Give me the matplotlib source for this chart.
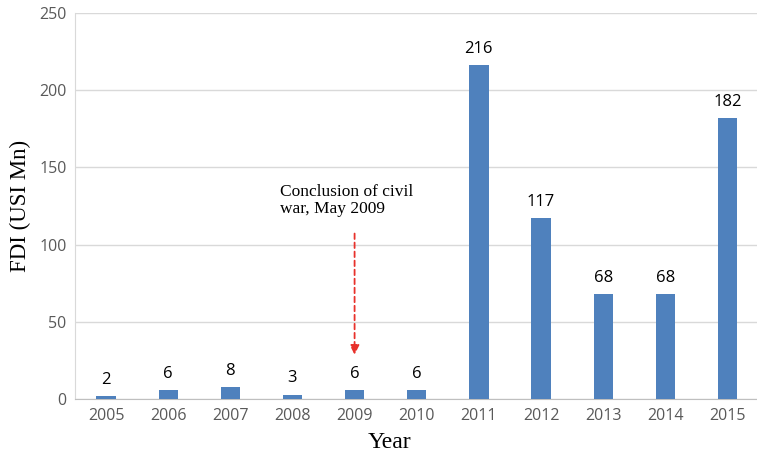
import matplotlib
matplotlib.use('Agg')
import matplotlib.pyplot as plt

years = ['2005', '2006', '2007', '2008', '2009', '2010', '2011', '2012', '2013', '2014', '2015']
fdi = [2, 6, 8, 3, 6, 6, 216, 117, 68, 68, 182]

fig = plt.figure(figsize=(7.57, 4.61), dpi=100)
ax = fig.add_axes([0.099, 0.134, 0.903, 0.838])

x = list(range(len(years)))
ax.bar(x, fdi, width=0.31, color='#4F81BD', zorder=3)
for xi, v in zip(x, fdi):
    ax.annotate(str(v), (xi, v), xytext=(0, 6), textcoords='offset points',
                ha='center', va='bottom', fontsize=12, family='Open Sans', color='black')

ax.set_xlim(-0.5, len(years) - 0.5)
ax.set_ylim(0, 250)
ax.set_yticks([0, 50, 100, 150, 200, 250])
ax.set_xticks(x)
ax.set_xticklabels(years)
ax.grid(axis='y', color='#d9d9d9', linewidth=1, zorder=0)
ax.tick_params(axis='both', length=0, labelsize=11.5, labelcolor='#595959', pad=6)
for lbl in ax.get_xticklabels() + ax.get_yticklabels():
    lbl.set_family('Open Sans')
ax.spines['top'].set_visible(False)
ax.spines['right'].set_visible(False)
ax.spines['left'].set_color('#d9d9d9')
ax.spines['bottom'].set_color('#bfbfbf')

ax.set_ylabel('FDI (USI Mn)', family='Liberation Serif', fontsize=16.5, labelpad=6)
ax.set_xlabel('Year', family='Liberation Serif', fontsize=17, labelpad=5)
ax.xaxis.set_label_coords(0.46, -0.085)

# end of the civil war marker
ax.annotate('', xy=(4, 27), xytext=(4, 109),
            arrowprops=dict(arrowstyle='-|>', color='#e8312b', linestyle=(0, (3, 2)),
                            linewidth=1.3, mutation_scale=14))
ax.text(2.8, 118, 'Conclusion of civil\nwar, May 2009', family='Liberation Serif',
        fontsize=12.5, ha='left', va='bottom', linespacing=1.05)

fig.savefig('out.png', dpi=100)
